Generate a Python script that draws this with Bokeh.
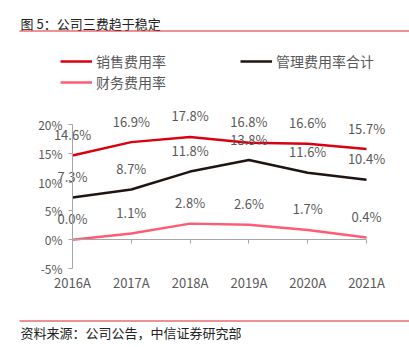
from bokeh.plotting import figure
from bokeh.models import (LinearAxis, FixedTicker, PrintfTickFormatter, Legend, LegendItem,
                          Label, BoxAnnotation, Range1d)
from bokeh.core.properties import value
from bokeh.embed import file_html
from bokeh.resources import INLINE

years = ["2016A", "2017A", "2018A", "2019A", "2020A", "2021A"]
sales_rate = [14.6, 16.9, 17.8, 16.8, 16.6, 15.7]
admin_rate = [7.3, 8.7, 11.8, 13.8, 11.6, 10.4]
fin_rate = [0.0, 1.1, 2.8, 2.6, 1.7, 0.4]
y_ticks = [-5, 0, 5, 10, 15, 20]
series_names = ["销售费用率", "管理费用率合计", "财务费用率"]
title_text = "图 5：公司三费趋于稳定"
source_text = "资料来源：公司公告，中信证券研究部"

FONT = "Noto Sans CJK SC"
GRAY = "#595959"
AXIS_GRAY = "#a6a6a6"
colors = ["#DA0010", "#1E1412", "#FF5C74"]

xs = list(range(len(years)))

p = figure(width=409, height=347, output_backend="svg", toolbar_location=None,
           x_range=Range1d(-1.2245, 5.731), y_range=Range1d(-18.63, 41.40),
           x_axis_location=None, y_axis_location=None,
           min_border=0, outline_line_color=None)
p.grid.visible = False
p.background_fill_color = "white"
p.border_fill_color = "white"

# y axis at x = 0
yax = LinearAxis(fixed_location=0, bounds=(y_ticks[0], y_ticks[-1]),
                 ticker=FixedTicker(ticks=y_ticks),
                 formatter=PrintfTickFormatter(format="%d%%"))
yax.axis_line_color = AXIS_GRAY
yax.major_tick_line_color = AXIS_GRAY
yax.major_tick_out = 4
yax.major_tick_in = 0
yax.minor_tick_line_color = None
yax.major_label_text_font = FONT
yax.major_label_text_font_size = "12px"
yax.major_label_text_color = GRAY
yax.major_label_standoff = 6
p.add_layout(yax, "left")

# x axis line at y = 0
xline = LinearAxis(fixed_location=0, bounds=(xs[0], xs[-1]),
                   ticker=FixedTicker(ticks=xs))
xline.axis_line_color = AXIS_GRAY
xline.major_tick_line_color = AXIS_GRAY
xline.major_tick_out = 4
xline.major_tick_in = 0
xline.minor_tick_line_color = None
xline.major_label_text_alpha = 0
xline.major_label_text_font_size = "1px"
p.add_layout(xline, "below")

# x category labels at bottom
xlab = LinearAxis(fixed_location=y_ticks[0], ticker=FixedTicker(ticks=xs),
                  major_label_overrides={i: y for i, y in enumerate(years)})
xlab.axis_line_color = None
xlab.major_tick_line_color = None
xlab.major_tick_out = 0
xlab.major_tick_in = 0
xlab.minor_tick_line_color = None
xlab.minor_tick_out = 0
xlab.major_label_text_font = FONT
xlab.major_label_text_font_size = "13px"
xlab.major_label_text_color = GRAY
xlab.major_label_standoff = 4
p.add_layout(xlab, "below")

renderers = []
for vals, col in zip([sales_rate, admin_rate, fin_rate], colors):
    r = p.line(xs, vals, line_color=col, line_width=2.5)
    renderers.append(r)
    p.text(xs, vals, text=[f"{v:.1f}%" for v in vals], y_offset=-21,
           text_align="center", text_baseline="middle",
           text_font=value(FONT), text_font_size="13px", text_color=GRAY)

def make_legend(items, loc):
    lg = Legend(items=items, location=loc)
    lg.border_line_color = None
    lg.background_fill_alpha = 0
    lg.padding = 0
    lg.margin = 0
    lg.spacing = 1
    lg.glyph_width = 32
    lg.glyph_height = 20
    lg.label_height = 20
    lg.label_standoff = 4
    lg.label_text_font = FONT
    lg.label_text_font_size = "14px"
    lg.label_text_color = GRAY
    return lg

leg1 = make_legend([LegendItem(label=series_names[0], renderers=[renderers[0]]),
                    LegendItem(label=series_names[2], renderers=[renderers[2]])], (60, 255))
leg2 = make_legend([LegendItem(label=series_names[1], renderers=[renderers[1]])], (240, 276))
p.add_layout(leg1)
p.add_layout(leg2)

p.add_layout(Label(x=20, y=324, x_units="screen", y_units="screen", text=title_text,
                   text_font=FONT, text_font_size="13px", text_color="#222222",
                   text_baseline="middle"))
p.add_layout(Label(x=20, y=15, x_units="screen", y_units="screen", text=source_text,
                   text_font=FONT, text_font_size="13px", text_color="#222222",
                   text_baseline="middle"))

for b, t in [(316, 317), (26, 27)]:
    p.add_layout(BoxAnnotation(left=19, right=409, bottom=b, top=t,
                               left_units="screen", right_units="screen",
                               bottom_units="screen", top_units="screen",
                               fill_color="#D9262C", fill_alpha=1, line_color=None))

open("out.html", "w").write(file_html(p, INLINE))
